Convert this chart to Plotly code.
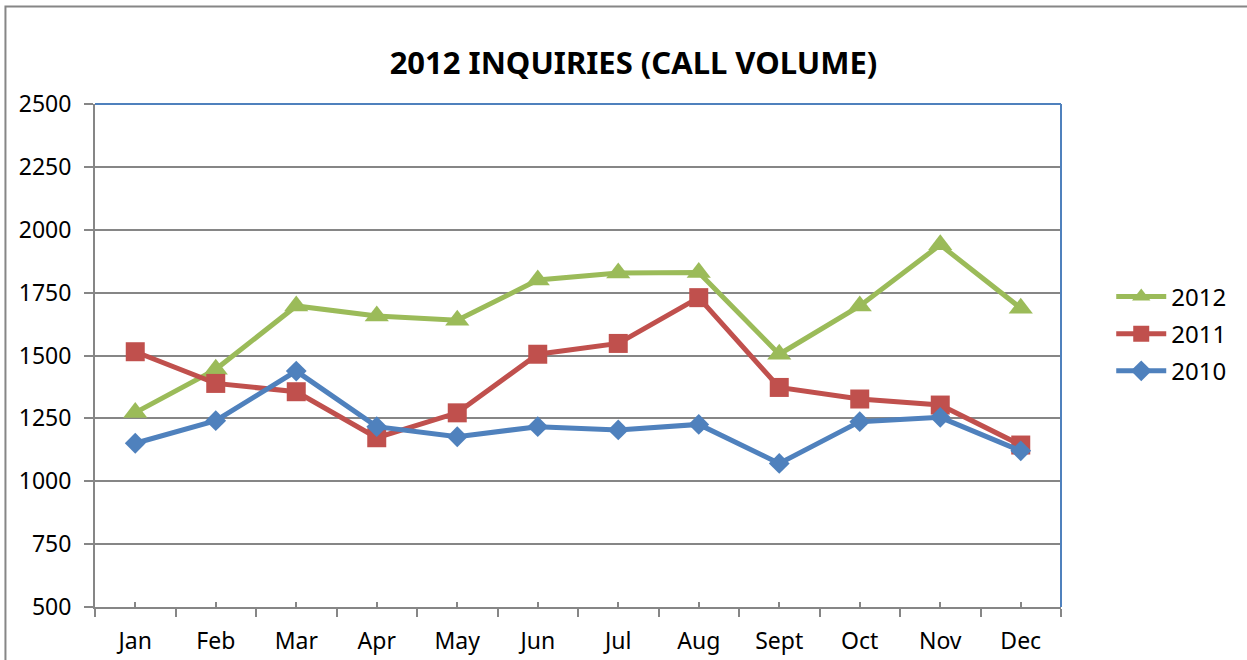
import plotly.graph_objects as go

months = ["Jan", "Feb", "Mar", "Apr", "May", "Jun", "Jul", "Aug", "Sept", "Oct", "Nov", "Dec"]
calls_2012 = [1273, 1445, 1697, 1657, 1640, 1800, 1828, 1830, 1505, 1697, 1940, 1688]
calls_2011 = [1515, 1389, 1356, 1173, 1272, 1505, 1548, 1730, 1373, 1327, 1303, 1144]
calls_2010 = [1151, 1241, 1438, 1217, 1177, 1217, 1204, 1226, 1071, 1237, 1254, 1121]
y_ticks = [500, 750, 1000, 1250, 1500, 1750, 2000, 2250, 2500]

GREEN = "#9BBB59"
RED = "#C0504D"
BLUE = "#4F81BD"
GRID = "#868686"
FONT = "Noto Sans"

fig = go.Figure()
series = [
    ("2012", calls_2012, GREEN, "triangle-up", 21),
    ("2011", calls_2011, RED, "square", 19),
    ("2010", calls_2010, BLUE, "diamond", 16),
]
for name, vals, color, symbol, size in series:
    fig.add_trace(go.Scatter(
        x=months, y=vals, name=name, legendgroup=name, mode="lines+markers",
        line=dict(color=color, width=5),
        marker=dict(symbol=symbol, size=size, color=color),
    ))

# invisible helper axis that carries the small inward ticks at month centres
fig.add_trace(go.Scatter(x=[0, 11], y=[500, 500], xaxis="x2", mode="markers",
                         marker=dict(opacity=0), showlegend=False, hoverinfo="skip"))

fig.update_layout(
    width=1247, height=660,
    margin=dict(l=95, r=186, t=104, b=53, autoexpand=False),
    paper_bgcolor="white", plot_bgcolor="white",
    font=dict(family=FONT, size=24, color="black"),
    title=dict(text="<b>2012 INQUIRIES (CALL VOLUME)</b>", x=0.508, xanchor="center",
               xref="container", y=0.905, yanchor="middle",
               font=dict(family=FONT, size=31, color="black")),
    xaxis=dict(type="category", range=[-0.5, 11.5], tickson="boundaries",
               ticks="outside", ticklen=8, tickwidth=2, tickcolor=GRID,
               showline=True, linecolor=GRID, linewidth=2, showgrid=False,
               tickfont=dict(size=23), ticklabelstandoff=12, automargin=False),
    xaxis2=dict(overlaying="x", anchor="y", range=[-0.5, 11.5],
                tickvals=list(range(12)), ticks="inside", ticklen=5, tickwidth=2,
                tickcolor=GRID, showticklabels=False, showgrid=False,
                zeroline=False, showline=False, automargin=False),
    yaxis=dict(range=[500, 2500], tickvals=y_ticks, ticks="outside", ticklen=9,
               tickwidth=2, tickcolor=GRID, showline=True, linecolor=GRID,
               linewidth=2, showgrid=True, gridcolor=GRID, gridwidth=2,
               zeroline=False, tickfont=dict(size=23), ticklabelstandoff=8,
               automargin=False),
    legend=dict(x=1.052, y=0.543, xanchor="left", yanchor="middle",
                font=dict(size=24), tracegroupgap=3, itemwidth=50,
                bgcolor="rgba(0,0,0,0)"),
    shapes=[
        dict(type="line", xref="paper", yref="paper", x0=0, x1=1, y0=1, y1=1,
             line=dict(color=BLUE, width=2)),
        dict(type="line", xref="paper", yref="paper", x0=1, x1=1, y0=0, y1=1,
             line=dict(color=BLUE, width=2)),
        dict(type="rect", xref="paper", yref="paper", x0=-0.0927, x1=2,
             y0=-1, y1=1.194, line=dict(color=GRID, width=2), layer="below"),
    ],
)

fig.write_html("out.html")
